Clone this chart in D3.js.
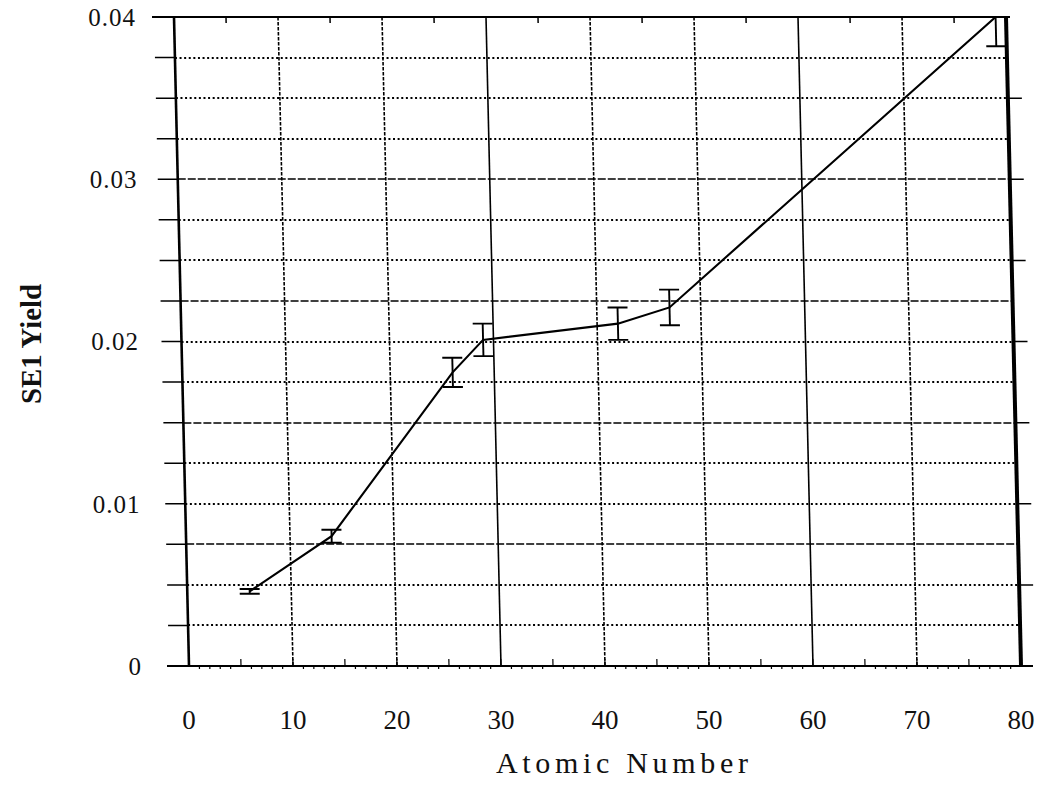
<!DOCTYPE html>
<html>
<head>
<meta charset="utf-8">
<script src="https://cdn.jsdelivr.net/npm/d3@7"></script>
<style>
  html, body { margin: 0; padding: 0; background: #fff; }
  svg { display: block; }
  text { font-family: "Liberation Serif", "Times New Roman", serif; fill: #111; }
</style>
</head>
<body>
<svg id="chart" width="1042" height="786"></svg>
<script>
// ---- data ----
const atomicNumber = [6, 14, 26, 29, 42, 47, 79];
const se1Yield     = [0.0046, 0.0080, 0.0181, 0.0201, 0.0211, 0.0221, 0.0400];
const yieldError   = [0.00015, 0.0004, 0.0009, 0.0010, 0.0010, 0.0011, 0.0018];
const xTickValues  = [0, 10, 20, 30, 40, 50, 60, 70, 80];
const yTickValues  = [0, 0.01, 0.02, 0.03, 0.04];
const yTickLabels  = ["0", "0.01", "0.02", "0.03", "0.04"];

(function () {
// ---- layout / style ----
const solidVerticals = [30, 60];
const dashedHorizontals = [3, 6, 9, 12];   // gridline indices (x 0.0025) drawn dashed
const pL = 189, pR = 1021, pT = 17, pB = 666;
const skewK = 15 / (pB - pT);           // scan shear of the original figure
const skewDeg = Math.atan(skewK) * 180 / Math.PI;

const svg = d3.select("#chart");
const x = d3.scaleLinear().domain([0, 80]).range([pL, pR]);
const y = d3.scaleLinear().domain([0, 0.04]).range([pB, pT]);

const defs = svg.append("defs");
defs.append("clipPath").attr("id", "plotclip")
  .append("rect").attr("x", pL).attr("y", pT).attr("width", pR - pL).attr("height", pB - pT);

const g = svg.append("g")
  .attr("transform", `translate(0,${pB}) skewX(${skewDeg}) translate(0,${-pB})`);

// horizontal grid every 0.0025
const hGrid = d3.range(1, 16);
const isDash = i => dashedHorizontals.includes(i);
g.append("g").selectAll("line").data(hGrid).join("line")
  .attr("x1", pL).attr("x2", pR)
  .attr("y1", i => Math.round(y(i * 0.0025))).attr("y2", i => Math.round(y(i * 0.0025)))
  .attr("stroke", "#000")
  .attr("stroke-width", i => isDash(i) ? 1.4 : 2)
  .attr("stroke-dasharray", i => isDash(i) ? "8,2" : "2,2.6");

// vertical grid
const vGrid = d3.range(10, 80, 10);
g.append("g").selectAll("line").data(vGrid).join("line")
  .attr("x1", d => x(d)).attr("x2", d => x(d))
  .attr("y1", pT).attr("y2", pB)
  .attr("stroke", "#000")
  .attr("stroke-width", d => solidVerticals.includes(d) ? 1.6 : 1.6)
  .attr("stroke-dasharray", d => solidVerticals.includes(d) ? null : "3.5,1.5");

// frame
g.append("line").attr("x1", pL).attr("x2", pL).attr("y1", pT).attr("y2", pB)
  .attr("stroke", "#000").attr("stroke-width", 2.6);
g.append("line").attr("x1", pR).attr("x2", pR).attr("y1", pT).attr("y2", pB)
  .attr("stroke", "#000").attr("stroke-width", 4);
g.append("line").attr("x1", pL - 22).attr("x2", pR + 4).attr("y1", pT).attr("y2", pT)
  .attr("stroke", "#000").attr("stroke-width", 2);
g.append("line").attr("x1", pL - 22).attr("x2", pR + 12).attr("y1", pB).attr("y2", pB)
  .attr("stroke", "#000").attr("stroke-width", 2.2);

// left ticks (outward) every 0.0025
g.append("g").selectAll("line").data(d3.range(0, 17).map(i => i * 0.0025)).join("line")
  .attr("x1", pL - 20).attr("x2", pL)
  .attr("y1", d => y(d)).attr("y2", d => y(d))
  .attr("stroke", "#000").attr("stroke-width", 1.5);
// right ticks (outward) every 0.005
g.append("g").selectAll("line").data(d3.range(1, 8).map(i => i * 0.005)).join("line")
  .attr("x1", pR).attr("x2", pR + 14)
  .attr("y1", d => y(d)).attr("y2", d => y(d))
  .attr("stroke", "#000").attr("stroke-width", 1.5);
// bottom minor ticks every 1 unit
g.append("g").selectAll("line").data(d3.range(1, 80)).join("line")
  .attr("x1", d => x(d)).attr("x2", d => x(d))
  .attr("y1", pB).attr("y2", d => d % 5 === 0 ? pB - 7 : pB + 3)
  .attr("stroke", "#000").attr("stroke-width", 1.2);
// top ticks at 5s
g.append("g").selectAll("line").data(d3.range(5, 80, 10)).join("line")
  .attr("x1", d => x(d)).attr("x2", d => x(d))
  .attr("y1", pT).attr("y2", pT + 6)
  .attr("stroke", "#000").attr("stroke-width", 1.5);

// data line + error bars (clipped to plot)
const dataG = g.append("g").attr("clip-path", "url(#plotclip)");
const pts = atomicNumber.map((z, i) => ({ z, v: se1Yield[i], e: yieldError[i] }));
dataG.append("path").datum(pts)
  .attr("fill", "none").attr("stroke", "#000").attr("stroke-width", 2.1)
  .attr("d", d3.line().x(d => x(d.z)).y(d => y(d.v)));
const capW = 10;
const eb = dataG.append("g").selectAll("g").data(pts).join("g");
eb.append("line")
  .attr("x1", d => x(d.z)).attr("x2", d => x(d.z))
  .attr("y1", d => y(d.v - d.e)).attr("y2", d => y(d.v + d.e))
  .attr("stroke", "#000").attr("stroke-width", 1.9);
eb.append("line")
  .attr("x1", d => x(d.z) - capW).attr("x2", d => x(d.z) + capW)
  .attr("y1", d => y(d.v - d.e)).attr("y2", d => y(d.v - d.e))
  .attr("stroke", "#000").attr("stroke-width", 1.9);
eb.append("line")
  .attr("x1", d => x(d.z) - capW).attr("x2", d => x(d.z) + capW)
  .attr("y1", d => y(d.v + d.e)).attr("y2", d => y(d.v + d.e))
  .attr("stroke", "#000").attr("stroke-width", 1.9);

// x tick labels
svg.append("g").selectAll("text").data(xTickValues).join("text")
  .attr("x", d => x(d)).attr("y", 729)
  .attr("text-anchor", "middle")
  .style("font-size", "27px")
  .text(d => d);

// y tick labels
svg.append("g").selectAll("text").data(yTickValues).join("text")
  .attr("x", d => 136 + 6 * (y(d) - pT) / (pB - pT))
  .attr("y", d => y(d)).attr("dy", "0.35em")
  .attr("text-anchor", "end")
  .style("font-size", "25px").style("letter-spacing", "1px")
  .text((d, i) => yTickLabels[i]);

// axis titles
svg.append("text")
  .attr("x", 622).attr("y", 773)
  .attr("text-anchor", "middle")
  .attr("textLength", 252).attr("lengthAdjust", "spacing")
  .style("font-size", "30px")
  .text("Atomic Number");

svg.append("text")
  .attr("transform", "translate(41,344) rotate(-90)")
  .attr("text-anchor", "middle")
  .attr("textLength", 120).attr("lengthAdjust", "spacingAndGlyphs")
  .style("font-size", "30px").style("font-weight", "bold")
  .text("SE1 Yield");
})();
</script>
</body>
</html>
